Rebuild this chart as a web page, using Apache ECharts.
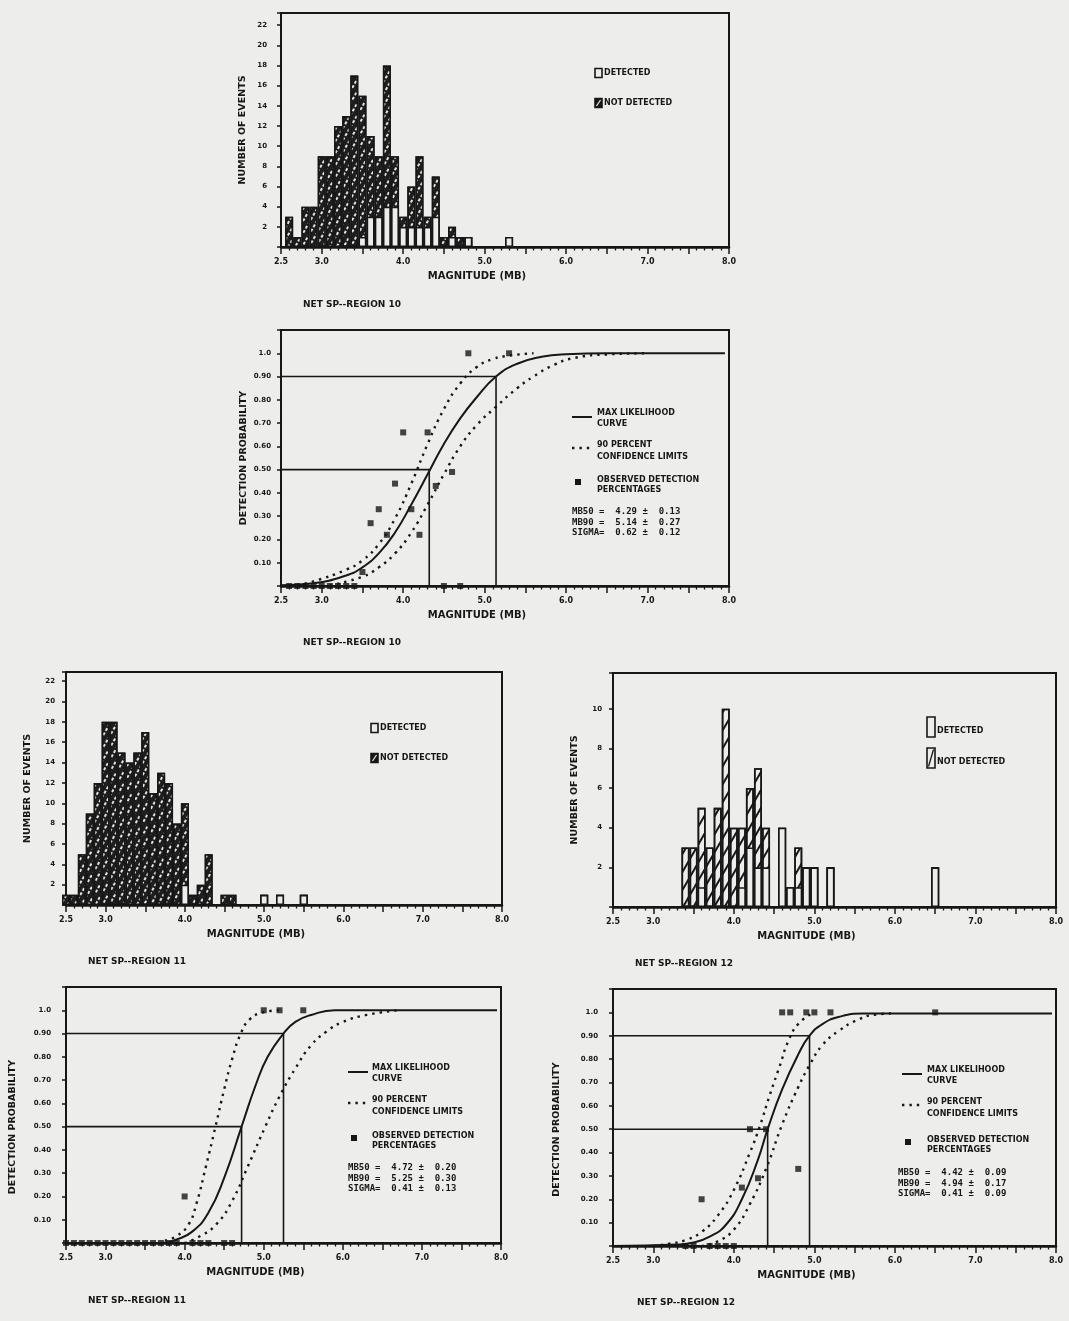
<!DOCTYPE html>
<html>
<head>
<meta charset="utf-8">
<script src="https://cdn.jsdelivr.net/npm/echarts@6.0.0/dist/echarts.min.js"></script>
<style>
  html, body { margin: 0; padding: 0; background: #ededeb; }
  #chart { width: 1069px; height: 1321px; }
</style>
</head>
<body>
<div id="chart"></div>
<script>
// ---- Region 10 histogram (bins of 0.1 mb): bar height and its white (detected) part ----
const r10Bins = [2.6, 2.7, 2.8, 2.9, 3.0, 3.1, 3.2, 3.3, 3.4, 3.5, 3.6, 3.7, 3.8, 3.9, 4.0, 4.1, 4.2, 4.3, 4.4, 4.5, 4.6, 4.7, 4.8, 5.3];
const r10Total = [3, 1, 4, 4, 9, 9, 12, 13, 17, 15, 11, 9, 18, 9, 3, 6, 9, 3, 7, 1, 2, 1, 1, 1];
const r10Detected = [0, 0, 0, 0, 0, 0, 0, 0, 0, 1, 3, 3, 4, 4, 2, 2, 2, 2, 3, 0, 1, 0, 1, 1];

// ---- Region 11 histogram ----
const r11Bins = [2.5, 2.6, 2.7, 2.8, 2.9, 3.0, 3.1, 3.2, 3.3, 3.4, 3.5, 3.6, 3.7, 3.8, 3.9, 4.0, 4.1, 4.2, 4.3, 4.5, 4.6, 5.0, 5.2, 5.5];
const r11Total = [1, 1, 5, 9, 12, 18, 18, 15, 14, 15, 17, 11, 13, 12, 8, 10, 1, 2, 5, 1, 1, 1, 1, 1];
const r11Detected = [0, 0, 0, 0, 0, 0, 0, 0, 0, 0, 0, 0, 0, 0, 0, 2, 0, 0, 0, 0, 0, 1, 1, 1];

// ---- Region 12 histogram ----
const r12Bins = [3.4, 3.5, 3.6, 3.7, 3.8, 3.9, 4.0, 4.1, 4.2, 4.3, 4.4, 4.6, 4.7, 4.8, 4.9, 5.0, 5.2, 6.5];
const r12Total = [3, 3, 5, 3, 5, 10, 4, 4, 6, 7, 4, 4, 1, 3, 2, 2, 2, 2];
const r12Detected = [0, 0, 1, 0, 0, 0, 0, 1, 3, 2, 2, 4, 1, 1, 2, 2, 2, 2];

// ---- Detection probability curves [mb, prob] ----
const r10Curve = [[2.5, 0.003], [2.9, 0.012], [3.3, 0.045], [3.5, 0.08], [3.7, 0.14], [3.9, 0.23], [4.1, 0.35], [4.3, 0.48], [4.5, 0.61], [4.7, 0.72], [4.9, 0.81], [5.14, 0.9], [5.4, 0.955], [5.7, 0.985], [6.0, 0.996], [6.5, 1.0], [7.95, 1.0]];
const r10Upper = [[2.7, 0.005], [2.9, 0.02], [3.3, 0.07], [3.5, 0.11], [3.7, 0.18], [3.9, 0.29], [4.1, 0.44], [4.3, 0.61], [4.5, 0.76], [4.7, 0.87], [4.9, 0.94], [5.1, 0.975], [5.3, 0.99], [5.6, 1.0]];
const r10Lower = [[3.1, 0.003], [3.5, 0.04], [3.7, 0.08], [3.9, 0.14], [4.1, 0.23], [4.3, 0.35], [4.5, 0.48], [4.7, 0.6], [4.9, 0.69], [5.14, 0.77], [5.4, 0.85], [5.6, 0.9], [5.85, 0.95], [6.1, 0.98], [6.5, 0.995], [7.0, 1.0]];
const r10Observed = [[2.6, 0], [2.7, 0], [2.8, 0], [2.9, 0], [3.0, 0], [3.1, 0], [3.2, 0], [3.3, 0], [3.4, 0], [3.5, 0.06], [3.6, 0.27], [3.7, 0.33], [3.8, 0.22], [3.9, 0.44], [4.0, 0.66], [4.1, 0.33], [4.2, 0.22], [4.3, 0.66], [4.4, 0.43], [4.5, 0], [4.6, 0.49], [4.7, 0], [4.8, 1.0], [5.3, 1.0]];
const r10Levels = [4.32, 5.14];

const r11Curve = [[2.5, 0], [3.7, 0.0], [3.9, 0.015], [4.1, 0.05], [4.3, 0.13], [4.5, 0.28], [4.72, 0.5], [4.9, 0.68], [5.05, 0.8], [5.25, 0.9], [5.4, 0.95], [5.6, 0.98], [5.9, 1.0], [7.95, 1.0]];
const r11Upper = [[3.75, 0.01], [3.9, 0.03], [4.05, 0.08], [4.15, 0.17], [4.27, 0.33], [4.39, 0.5], [4.5, 0.66], [4.6, 0.79], [4.71, 0.9], [4.82, 0.96], [4.98, 0.99], [5.2, 1.0]];
const r11Lower = [[4.0, 0.0], [4.2, 0.03], [4.4, 0.08], [4.6, 0.18], [4.8, 0.33], [5.02, 0.5], [5.2, 0.63], [5.4, 0.75], [5.6, 0.85], [5.8, 0.91], [6.0, 0.95], [6.3, 0.98], [6.7, 1.0]];
const r11Observed = [[2.5, 0], [2.6, 0], [2.7, 0], [2.8, 0], [2.9, 0], [3.0, 0], [3.1, 0], [3.2, 0], [3.3, 0], [3.4, 0], [3.5, 0], [3.6, 0], [3.7, 0], [3.8, 0], [3.9, 0], [4.0, 0.2], [4.1, 0], [4.2, 0], [4.3, 0], [4.5, 0], [4.6, 0], [5.0, 1.0], [5.2, 1.0], [5.5, 1.0]];
const r11Levels = [4.72, 5.25];

const r12Curve = [[2.5, 0], [3.3, 0.006], [3.5, 0.015], [3.7, 0.04], [3.9, 0.09], [4.1, 0.2], [4.3, 0.37], [4.42, 0.5], [4.6, 0.67], [4.8, 0.82], [4.94, 0.9], [5.1, 0.95], [5.3, 0.98], [5.6, 0.995], [7.95, 0.995]];
const r12Upper = [[3.0, 0.0], [3.2, 0.01], [3.4, 0.025], [3.6, 0.06], [3.8, 0.13], [4.0, 0.24], [4.2, 0.4], [4.32, 0.51], [4.45, 0.65], [4.57, 0.77], [4.68, 0.88], [4.8, 0.95], [4.97, 0.995]];
const r12Lower = [[3.6, 0.0], [3.8, 0.02], [4.0, 0.07], [4.2, 0.18], [4.4, 0.33], [4.6, 0.52], [4.8, 0.68], [4.95, 0.78], [5.1, 0.86], [5.3, 0.92], [5.55, 0.97], [5.75, 0.99], [5.95, 0.995]];
const r12Observed = [[3.4, 0], [3.5, 0], [3.6, 0.2], [3.7, 0], [3.8, 0], [3.9, 0], [4.0, 0], [4.1, 0.25], [4.2, 0.5], [4.3, 0.29], [4.4, 0.5], [4.6, 1.0], [4.7, 1.0], [4.8, 0.33], [4.9, 1.0], [5.0, 1.0], [5.2, 1.0], [6.5, 1.0]];
const r12Levels = [4.42, 4.94];

const probLevels = [0.5, 0.9];
const magRange = [2.5, 8.0];

const r10Stats = ['MB50 =  4.29 \u00b1  0.13', 'MB90 =  5.14 \u00b1  0.27', 'SIGMA=  0.62 \u00b1  0.12'];
const r11Stats = ['MB50 =  4.72 \u00b1  0.20', 'MB90 =  5.25 \u00b1  0.30', 'SIGMA=  0.41 \u00b1  0.13'];
const r12Stats = ['MB50 =  4.42 \u00b1  0.09', 'MB90 =  4.94 \u00b1  0.17', 'SIGMA=  0.41 \u00b1  0.09'];

// ---- styling ----
const FONT = 'DejaVu Sans';
const MONO = 'DejaVu Sans Mono';
const INK = '#171717';
const PAPER = '#ededeb';

// grid boxes: 0 R10 hist, 1 R10 prob, 2 R11 hist, 3 R12 hist, 4 R11 prob, 5 R12 prob
const grids = [
  { left: 281, top: 13, width: 448, height: 234 },
  { left: 281, top: 330, width: 448, height: 256 },
  { left: 66, top: 672, width: 436, height: 233 },
  { left: 613, top: 673, width: 443, height: 234 },
  { left: 66, top: 987, width: 435, height: 256 },
  { left: 613, top: 989, width: 443, height: 257 }
].map(g => Object.assign(g, { show: true, borderColor: INK, borderWidth: 2, backgroundColor: 'transparent' }));

function magAxis(gi) {
  return {
    type: 'value', gridIndex: gi, min: magRange[0], max: magRange[1], interval: 0.5,
    name: 'MAGNITUDE (MB)', nameLocation: 'middle', nameGap: 24,
    nameTextStyle: { color: INK, fontFamily: FONT, fontWeight: 'bold', fontSize: 10, padding: [0, 56, 0, 0] },
    axisLine: { show: true, lineStyle: { color: INK, width: 2.5 } },
    axisTick: { show: true, length: 7, lineStyle: { color: INK, width: 1.5 } },
    minorTick: { show: true, splitNumber: 5, length: 3.5, lineStyle: { color: INK, width: 1.3 } },
    splitLine: { show: false },
    axisLabel: {
      color: INK, fontFamily: FONT, fontWeight: 'bold', fontSize: 8, margin: 11,
      formatter: v => (Math.abs(v - Math.round(v)) < 1e-6 || Math.abs(v - magRange[0]) < 1e-6) ? v.toFixed(1) : ''
    }
  };
}

function countAxis(gi, max, gap, margin) {
  return {
    type: 'value', gridIndex: gi, min: 0, max: max, interval: 2,
    name: 'NUMBER OF EVENTS', nameLocation: 'middle', nameGap: gap,
    nameTextStyle: { color: INK, fontFamily: FONT, fontWeight: 'bold', fontSize: 9.5 },
    axisLine: { show: true, lineStyle: { color: INK, width: 2 } },
    axisTick: { show: true, length: 4, lineStyle: { color: INK, width: 1.5 } },
    splitLine: { show: false },
    axisLabel: {
      color: INK, fontFamily: FONT, fontWeight: 'bold', fontSize: 7, margin: margin,
      formatter: v => (v > 0 && Math.abs(v % 2) < 1e-6) ? String(v) : ''
    }
  };
}

function probAxis(gi, gap, margin, pad) {
  return {
    type: 'value', gridIndex: gi, min: 0, max: 1.1, interval: 0.1,
    name: 'DETECTION PROBABILITY', nameLocation: 'middle', nameGap: gap,
    nameTextStyle: { color: INK, fontFamily: FONT, fontWeight: 'bold', fontSize: 9.5, padding: [0, pad, 0, 0] },
    axisLine: { show: true, lineStyle: { color: INK, width: 2 } },
    axisTick: { show: true, length: 4, lineStyle: { color: INK, width: 1.5 } },
    splitLine: { show: false },
    axisLabel: {
      color: INK, fontFamily: FONT, fontWeight: 'bold', fontSize: 7, margin: margin,
      formatter: v => {
        if (v < 0.05 || v > 1.05) return '';
        if (Math.abs(v - 1) < 1e-6) return '1.0';
        return v.toFixed(2);
      }
    }
  };
}

// hatched bar = whole bin count; white bar drawn over it = detected part
function histSeries(gi, bins, total, det, dark) {
  const hatch = dark
    ? { color: '#e2e2e0', symbol: 'rect', symbolSize: 1, dashArrayX: [3, 2], dashArrayY: [1.3, 3.2], rotation: -Math.PI / 3 }
    : { color: INK, symbol: 'rect', symbolSize: 1, dashArrayX: [1, 0], dashArrayY: [1.5, 7], rotation: -Math.PI / 3 };
  return [
    {
      type: 'bar', name: 'NOT DETECTED', xAxisIndex: gi, yAxisIndex: gi, barWidth: 8, barGap: '-100%',
      data: bins.map((m, i) => [m, total[i]]),
      itemStyle: { color: dark ? '#1e1e1e' : PAPER, borderColor: INK, borderWidth: 1.6, decal: hatch }
    },
    {
      type: 'bar', name: 'DETECTED', xAxisIndex: gi, yAxisIndex: gi, barWidth: 8, barGap: '-100%',
      data: bins.map((m, i) => [m, det[i]]),
      itemStyle: { color: PAPER, borderColor: INK, borderWidth: 1.6 }
    }
  ];
}

function probSeries(gi, curve, upper, lower, observed, levels) {
  const refLine = k => ({
    type: 'line', xAxisIndex: gi, yAxisIndex: gi, showSymbol: false, silent: true,
    data: [[magRange[0], probLevels[k]], [levels[k], probLevels[k]], [levels[k], 0]],
    lineStyle: { color: INK, width: 1.6 }, z: 2
  });
  const dotted = d => ({
    type: 'line', xAxisIndex: gi, yAxisIndex: gi, showSymbol: false, smooth: 0.5,
    data: d, lineStyle: { color: INK, width: 2.4, type: [2.4, 5] }, z: 3
  });
  return [
    refLine(0), refLine(1),
    {
      type: 'line', name: 'MAX LIKELIHOOD CURVE', xAxisIndex: gi, yAxisIndex: gi, showSymbol: false,
      smooth: 0.5, data: curve, lineStyle: { color: INK, width: 2 }, z: 4
    },
    dotted(upper), dotted(lower),
    {
      type: 'scatter', name: 'OBSERVED DETECTION PERCENTAGES', xAxisIndex: gi, yAxisIndex: gi,
      data: observed, symbol: 'rect', symbolSize: 6, itemStyle: { color: INK }, z: 5
    }
  ];
}

// ---- hand-drawn legends and captions ----
function txt(x, y, s, size, family) {
  return { type: 'text', x: x, y: y, style: { text: s, fill: INK, font: 'bold ' + size + 'px "' + (family || FONT) + '"', verticalAlign: 'middle' } };
}
function box(x, y, w, h, hatched) {
  const els = [{ type: 'rect', shape: { x: x, y: y, width: w, height: h }, style: { fill: hatched === 'dark' ? INK : PAPER, stroke: INK, lineWidth: 1.6 } }];
  if (hatched) {
    els.push({ type: 'line', shape: { x1: x + 1.5, y1: y + h - 1.5, x2: x + w - 1.5, y2: y + 1.5 },
      style: { stroke: hatched === 'dark' ? '#e2e2e0' : INK, lineWidth: 1.3 } });
  }
  return els;
}
function histLegend(x, y1, y2, w, h, dark) {
  return [].concat(
    box(x, y1 - h / 2, w, h, false), [txt(x + w + 2, y1 + (h > 12 ? 4 : 0), 'DETECTED', 8)],
    box(x, y2 - h / 2, w, h, dark ? 'dark' : 'light'), [txt(x + w + 2, y2 + (h > 12 ? 4 : 0), 'NOT DETECTED', 8)]
  );
}
function probLegend(x, tx, yLine, yDot, yStats, sx, stats) {
  return [
    { type: 'line', shape: { x1: x, y1: yLine, x2: x + 20, y2: yLine }, style: { stroke: INK, lineWidth: 2 } },
    txt(tx, yLine - 4, 'MAX LIKELIHOOD', 8), txt(tx, yLine + 7, 'CURVE', 8),
    { type: 'line', shape: { x1: x, y1: yLine + 31, x2: x + 20, y2: yLine + 31 }, style: { stroke: INK, lineWidth: 2.4, lineDash: [2.4, 5] } },
    txt(tx, yLine + 28, '90 PERCENT', 8), txt(tx, yLine + 40, 'CONFIDENCE LIMITS', 8),
    { type: 'rect', shape: { x: x + 3, y: yDot - 3, width: 6, height: 6 }, style: { fill: INK } },
    txt(tx, yDot - 2, 'OBSERVED DETECTION', 8), txt(tx, yDot + 8, 'PERCENTAGES', 8),
    txt(sx, yStats, stats[0], 9, MONO), txt(sx, yStats + 10.5, stats[1], 9, MONO), txt(sx, yStats + 21, stats[2], 9, MONO)
  ];
}

const graphics = [].concat(
  histLegend(595, 73, 103, 7, 9, true),
  histLegend(371, 728, 758, 7, 9, true),
  histLegend(927, 727, 758, 8, 20, false),
  probLegend(572, 597, 417, 482, 512, 572, r10Stats),
  probLegend(348, 372, 1072, 1138, 1168, 348, r11Stats),
  probLegend(902, 927, 1074, 1142, 1173, 898, r12Stats),
  [
    txt(303, 305, 'NET SP--REGION 10', 9),
    txt(303, 643, 'NET SP--REGION 10', 9),
    txt(88, 962, 'NET SP--REGION 11', 9),
    txt(635, 964, 'NET SP--REGION 12', 9),
    txt(88, 1301, 'NET SP--REGION 11', 9),
    txt(637, 1303, 'NET SP--REGION 12', 9)
  ]
);

const chart = echarts.init(document.getElementById('chart'));
chart.setOption({
  backgroundColor: PAPER,
  animation: false,
  grid: grids,
  xAxis: [0, 1, 2, 3, 4, 5].map(magAxis),
  yAxis: [
    countAxis(0, 23.2, 33, 14),
    probAxis(1, 32, 10, 0),
    countAxis(2, 22.9, 33, 11),
    countAxis(3, 11.8, 33, 11),
    probAxis(4, 48, 15, 24),
    probAxis(5, 51, 15, 24)
  ],
  series: [].concat(
    histSeries(0, r10Bins, r10Total, r10Detected, true),
    probSeries(1, r10Curve, r10Upper, r10Lower, r10Observed, r10Levels),
    histSeries(2, r11Bins, r11Total, r11Detected, true),
    histSeries(3, r12Bins, r12Total, r12Detected, false),
    probSeries(4, r11Curve, r11Upper, r11Lower, r11Observed, r11Levels),
    probSeries(5, r12Curve, r12Upper, r12Lower, r12Observed, r12Levels)
  ),
  graphic: graphics
});
</script>
</body>
</html>
